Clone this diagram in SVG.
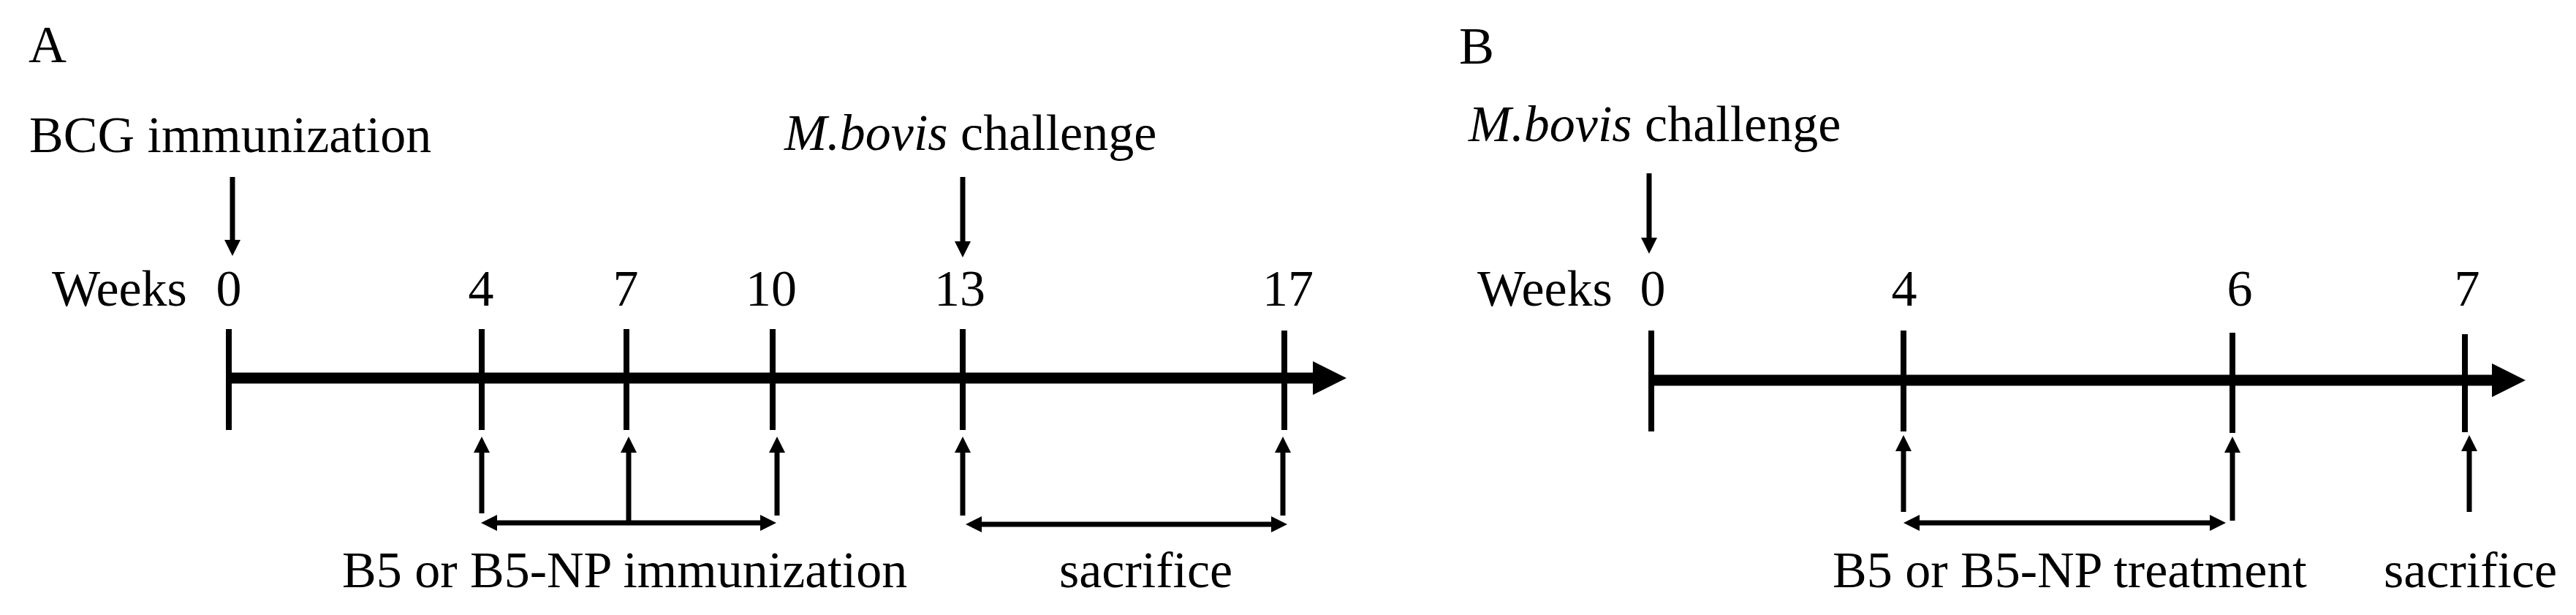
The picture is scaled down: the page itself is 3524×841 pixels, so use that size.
<svg xmlns="http://www.w3.org/2000/svg" width="3524" height="841" viewBox="0 0 3524 841">
<style>
text{font-family:"Liberation Serif","Times New Roman",serif;font-size:70px;fill:#000}
.num{text-anchor:middle}
.it{font-style:italic}
.tl{stroke:#000;stroke-width:15;fill:none}
.tick{stroke:#000;stroke-width:8;fill:none}
.arr{stroke:#000;stroke-width:7;fill:none}
</style>
<defs>
<marker id="ah" viewBox="0 0 22 22" refX="10" refY="11" markerWidth="22" markerHeight="22" markerUnits="userSpaceOnUse" orient="auto-start-reverse"><path d="M0,0 L22,11 L0,22 Z" fill="#000"/></marker>
<marker id="big" viewBox="0 0 46 46" refX="22" refY="23" markerWidth="46" markerHeight="46" markerUnits="userSpaceOnUse" orient="auto"><path d="M0,0 L46,23 L0,46 Z" fill="#000"/></marker>
</defs>
<rect width="3524" height="841" fill="#fff"/>

<!-- Panel A -->
<g id="panelA-label"><text x="39" y="85" style="font-size:72px">A</text></g>
<g id="bcg"><text x="40" y="208">BCG immunization</text></g>
<g id="mbovisA"><text x="1073" y="205"><tspan class="it">M.bovis</tspan> challenge</text></g>
<g id="weeksA"><text x="71" y="418">Weeks</text></g>
<g id="numsA">
<text class="num" x="313" y="418">0</text>
<text class="num" x="658" y="418">4</text>
<text class="num" x="856" y="418">7</text>
<text class="num" x="1055" y="418">10</text>
<text class="num" x="1313" y="418">13</text>
<text class="num" x="1762" y="418">17</text>
</g>
<g id="immA"><text x="468" y="803">B5 or B5-NP immunization</text></g>
<g id="sacA"><text x="1449" y="803">sacrifice</text></g>

<!-- Panel B -->
<g id="panelB-label"><text x="1996" y="87" style="font-size:72px">B</text></g>
<g id="mbovisB"><text x="2009" y="193"><tspan class="it">M.bovis</tspan> challenge</text></g>
<g id="weeksB"><text x="2021" y="418">Weeks</text></g>
<g id="numsB">
<text class="num" x="2261" y="418">0</text>
<text class="num" x="2605" y="418">4</text>
<text class="num" x="3064" y="418">6</text>
<text class="num" x="3375" y="418">7</text>
</g>
<g id="treatB"><text x="2507" y="803">B5 or B5-NP treatment</text></g>
<g id="sacB"><text x="3261" y="803">sacrifice</text></g>

<g id="connectors">
<!-- timelines -->
<line class="tl" x1="313" y1="517" x2="1818" y2="517" marker-end="url(#big)"/>
<line class="tl" x1="2258" y1="520" x2="3431" y2="520" marker-end="url(#big)"/>
<!-- ticks A -->
<line class="tick" x1="313" y1="450" x2="313" y2="588"/>
<line class="tick" x1="659" y1="450" x2="659" y2="588"/>
<line class="tick" x1="857" y1="450" x2="857" y2="588"/>
<line class="tick" x1="1057" y1="450" x2="1057" y2="588"/>
<line class="tick" x1="1317" y1="450" x2="1317" y2="588"/>
<line class="tick" x1="1757" y1="452" x2="1757" y2="588"/>
<!-- ticks B -->
<line class="tick" x1="2259" y1="452" x2="2259" y2="590"/>
<line class="tick" x1="2604" y1="452" x2="2604" y2="590"/>
<line class="tick" x1="3054" y1="455" x2="3054" y2="592"/>
<line class="tick" x1="3372" y1="457" x2="3372" y2="591"/>
<!-- down arrows -->
<line class="arr" x1="318" y1="242" x2="318" y2="338" marker-end="url(#ah)"/>
<line class="arr" x1="1317" y1="242" x2="1317" y2="340" marker-end="url(#ah)"/>
<line class="arr" x1="2256" y1="237" x2="2256" y2="335" marker-end="url(#ah)"/>
<!-- up arrows A -->
<line class="arr" x1="659" y1="702" x2="659" y2="609" marker-end="url(#ah)"/>
<line class="arr" x1="860" y1="712" x2="860" y2="609" marker-end="url(#ah)"/>
<line class="arr" x1="1063" y1="705" x2="1063" y2="609" marker-end="url(#ah)"/>
<line class="arr" x1="1317" y1="705" x2="1317" y2="609" marker-end="url(#ah)"/>
<line class="arr" x1="1755" y1="705" x2="1755" y2="609" marker-end="url(#ah)"/>
<!-- up arrows B -->
<line class="arr" x1="2604" y1="700" x2="2604" y2="607" marker-end="url(#ah)"/>
<line class="arr" x1="3054" y1="712" x2="3054" y2="609" marker-end="url(#ah)"/>
<line class="arr" x1="3378" y1="700" x2="3378" y2="607" marker-end="url(#ah)"/>
<!-- double arrows -->
<line class="arr" x1="670" y1="715" x2="1050" y2="715" marker-start="url(#ah)" marker-end="url(#ah)"/>
<line class="arr" x1="1333" y1="717" x2="1749" y2="717" marker-start="url(#ah)" marker-end="url(#ah)"/>
<line class="arr" x1="2616" y1="715" x2="3033" y2="715" marker-start="url(#ah)" marker-end="url(#ah)"/>
</g>
</svg>
